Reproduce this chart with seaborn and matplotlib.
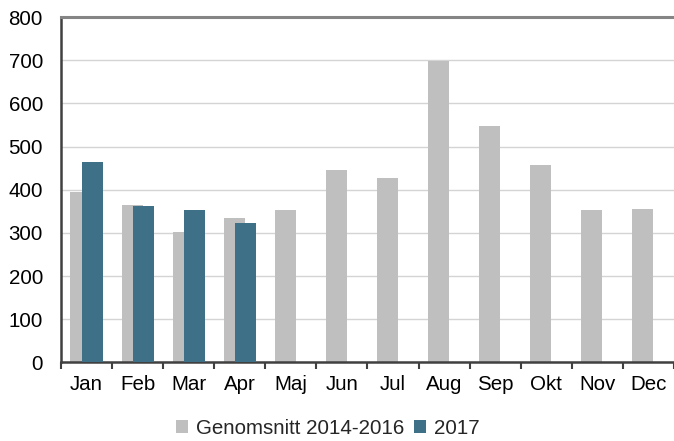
import matplotlib
matplotlib.use("Agg")
import matplotlib.pyplot as plt
import seaborn as sns
import numpy as np

months = ['Jan', 'Feb', 'Mar', 'Apr', 'Maj', 'Jun', 'Jul', 'Aug', 'Sep', 'Okt', 'Nov', 'Dec']
avg_2014_2016 = [395, 364, 303, 334, 353, 445, 428, 698, 548, 457, 353, 356]
months_2017 = ['Jan', 'Feb', 'Mar', 'Apr']
values_2017 = [464, 363, 353, 323]

gray = '#BFBFBF'
teal = '#3E7088'
fs = 14.8

sns.set_theme(style='white')
plt.rcParams['font.family'] = ['Liberation Sans', 'DejaVu Sans']

fig = plt.figure(figsize=(6.74, 4.41), dpi=100)
ax = fig.add_axes([0.0905, 0.1785, 0.9095, 0.7825])

width = 0.41
shift = 0.109

sns.barplot(x=months, y=avg_2014_2016, order=months, color=gray, width=width,
            saturation=1, ax=ax, label='Genomsnitt 2014-2016', zorder=2)
n_gray = len(ax.patches)
sns.barplot(x=months_2017, y=values_2017, order=months, color=teal, width=width,
            saturation=1, ax=ax, label='2017', zorder=3)

# overlap the two series like the original
for i, p in enumerate(ax.patches):
    p.set_x(p.get_x() + (-shift if i < n_gray else shift))
    p.set_linewidth(0)

ax.set_xlim(-0.5, 11.5)
ax.set_ylim(0, 800)
ax.set_yticks(np.arange(0, 801, 100))
ax.yaxis.grid(True, color='#D4D4D4', lw=1)
ax.set_axisbelow(True)
ax.set_xlabel('')
ax.set_ylabel('')

ax.set_xticks(np.arange(-0.5, 12, 1), minor=True)
ax.tick_params(axis='x', which='major', length=0, pad=9, labelsize=fs, colors='black')
ax.tick_params(axis='x', which='minor', length=5, width=1.5, color='#404040', direction='out', bottom=True)
ax.tick_params(axis='y', length=0, pad=13, labelsize=fs, colors='black')

for side in ['left', 'bottom']:
    ax.spines[side].set_color('#404040')
    ax.spines[side].set_linewidth(1.8)
ax.spines['top'].set_color('#858585')
ax.spines['top'].set_linewidth(2.2)
ax.spines['right'].set_visible(False)

handles, labels = ax.get_legend_handles_labels()
if ax.get_legend():
    ax.get_legend().remove()
fig.legend(handles, labels, loc='center', bbox_to_anchor=(328 / 674, 1 - 428 / 441),
           ncol=2, frameon=False, fontsize=fs, handlelength=0.6, handleheight=0.6,
           handletextpad=0.4, columnspacing=0.45, borderaxespad=0)

fig.savefig('out.png', dpi=100)
